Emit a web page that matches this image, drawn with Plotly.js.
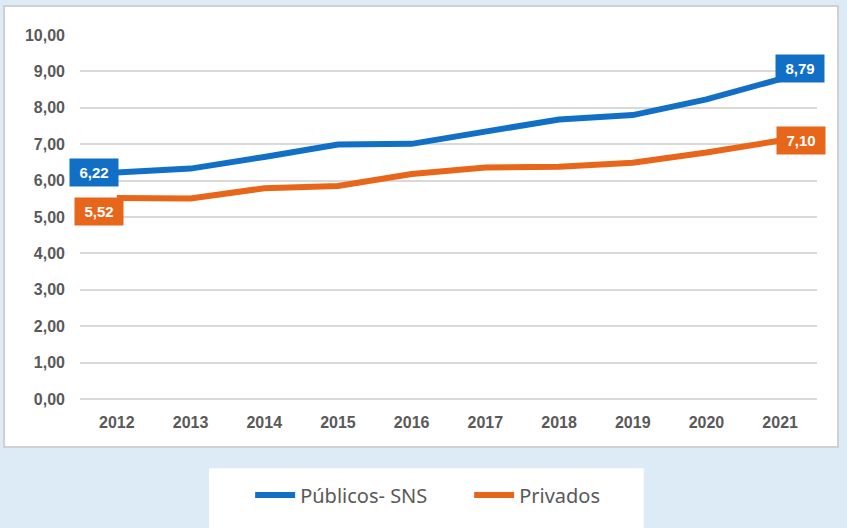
<!DOCTYPE html>
<html>
<head>
<meta charset="utf-8">
<script src="https://cdn.plot.ly/plotly-3.0.1.min.js"></script>
<style>html,body{margin:0;padding:0;background:#dcebf5;}#chart{width:847px;height:528px;}</style>
</head>
<body>
<div id="chart"></div>
<script>
const years = ['2012','2013','2014','2015','2016','2017','2018','2019','2020','2021'];
const publicos = [6.22, 6.33, 6.65, 6.99, 7.01, 7.33, 7.68, 7.80, 8.23, 8.79];
const privados = [5.52, 5.51, 5.79, 5.85, 6.18, 6.36, 6.38, 6.49, 6.77, 7.10];
const seriesNames = ['Públicos- SNS', 'Privados'];
const colors = ['#1170c6', '#e8661a'];

const fmt = v => v.toFixed(2).replace('.', ',');

const traces = [publicos, privados].map((vals, i) => ({
  x: years, y: vals, type: 'scatter', mode: 'lines', name: seriesNames[i],
  line: {color: colors[i], width: 6}, hoverinfo: 'skip'
}));

const last = years.length - 1;
function lab(xi, val, col, side, xshift, yshift) {
  return {
    x: xi, y: val, xref: 'x', yref: 'y', text: '<b>' + fmt(val) + '</b>', showarrow: false,
    xanchor: side, xshift: xshift, yshift: yshift,
    bgcolor: col, borderpad: 4, width: 40, height: 19,
    font: {family: 'Liberation Sans, Arial, sans-serif', size: 15, color: '#ffffff'}
  };
}

const layout = {
  width: 847, height: 528,
  margin: {l: 80, r: 30, t: 35, b: 129},
  paper_bgcolor: '#dcebf5', plot_bgcolor: '#ffffff',
  showlegend: true,
  legend: {orientation: 'h', x: 0.528, xanchor: 'center', y: -0.264, yanchor: 'middle',
    bgcolor: 'rgba(0,0,0,0)', font: {family: 'Noto Sans, Open Sans, sans-serif', size: 20, color: '#595959'},
    itemwidth: 40, entrywidth: 164, entrywidthmode: 'pixels', traceorder: 'normal'},
  xaxis: {type: 'category', range: [-0.5, 9.5], showgrid: false, zeroline: false, showline: false,
    ticks: '', ticklabelstandoff: 12,
    tickfont: {family: 'Liberation Sans, Arial, sans-serif', size: 16, color: '#595959', weight: 'bold'}},
  yaxis: {range: [0, 10], dtick: 1, tickformat: '.2f',
    showgrid: true, gridcolor: '#d9d9d9', gridwidth: 2, zeroline: true, zerolinecolor: '#d9d9d9', zerolinewidth: 2,
    showline: false, ticks: '', ticklabelstandoff: 14,
    tickfont: {family: 'Liberation Sans, Arial, sans-serif', size: 16, color: '#595959', weight: 'bold'}},
  separators: ',.',
  shapes: [
    {type: 'rect', xref: 'paper', yref: 'paper', x0: -0.103, x1: 1.0285, y0: -0.132, y1: 1.0797,
     fillcolor: '#ffffff', line: {color: '#d0d0d0', width: 2}, layer: 'below'},
    {type: 'rect', xref: 'paper', yref: 'paper', x0: 0.175, x1: 0.765, y0: -0.36, y1: -0.19,
     fillcolor: '#ffffff', line: {width: 0}, layer: 'below'}
  ],
  annotations: [
    lab(0, publicos[0], colors[0], 'right', 2, 0),
    lab(0, privados[0], colors[1], 'right', 7, -13),
    lab(last, publicos[last], colors[0], 'left', -5, 11),
    lab(last, privados[last], colors[1], 'left', -4, 0)
  ]
};

Plotly.newPlot('chart', traces, layout, {displayModeBar: false, staticPlot: true});
</script>
</body>
</html>
